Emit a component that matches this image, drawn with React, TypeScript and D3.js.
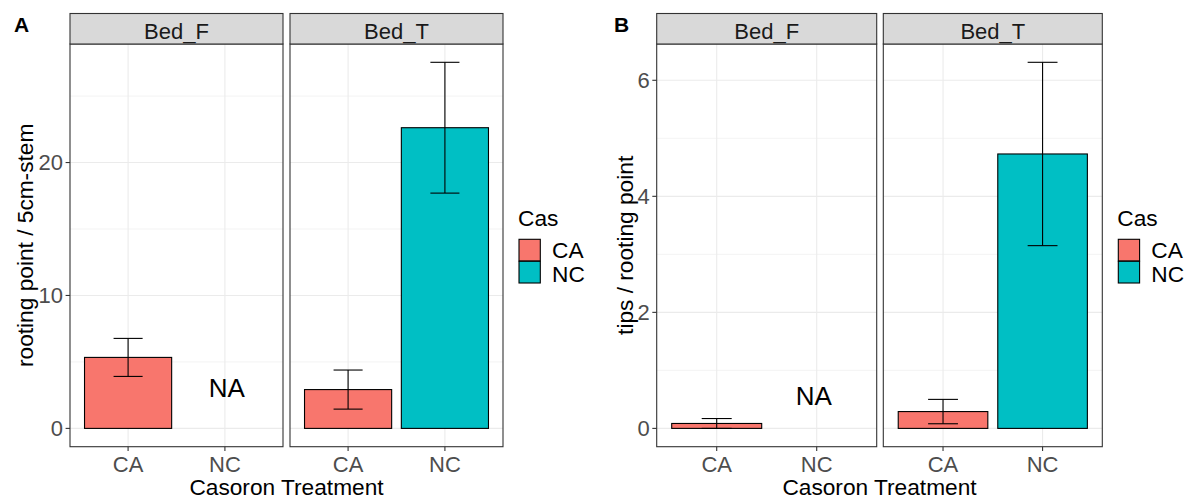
import * as d3 from "d3";

const beds = ["Bed_F", "Bed_T"];
const casLevels = ["CA", "NC"];
const casColors = ["#F8766D", "#00BFC4"];

// one row per bar: facet, Casoron group, mean and standard error
const barBed = ["Bed_F", "Bed_T", "Bed_T"];
const barCas = ["CA", "CA", "NC"];
const rootingMean = [5.34, 2.92, 22.62];
const rootingSE = [1.43, 1.47, 4.92];
const tipsMean = [0.085, 0.29, 4.73];
const tipsSE = [0.085, 0.21, 1.58];

const rootingTicks = [0, 10, 20];
const rootingMinor = [5, 15, 25];
const tipsTicks = [0, 2, 4, 6];
const tipsMinor = [1, 3, 5];

const naRooting = 3.1;
const naTips = 0.57;

const FONT = "'Liberation Sans', Arial, Helvetica, sans-serif";
const PANEL_TOP = 44;
const PANEL_BOTTOM = 446.7;
const STRIP_TOP = 13.5;

type SubProps = {
  tag: string;
  tagX: number;
  facets: [number, number][];
  means: number[];
  ses: number[];
  ticks: number[];
  minor: number[];
  naY: number;
  naShift: number;
  yTitle: string;
  yTitleX: number;
  legendX: number;
};

function SubPlot(p: SubProps) {
  const lo = Math.min(0, ...p.means.map((m, i) => m - p.ses[i]));
  const hi = d3.max(p.means.map((m, i) => m + p.ses[i])) as number;
  const pad = (hi - lo) * 0.05;
  const y = d3.scaleLinear().domain([lo - pad, hi + pad]).range([PANEL_BOTTOM, PANEL_TOP]);
  const color = d3.scaleOrdinal<string, string>().domain(casLevels).range(casColors);
  const left = p.facets[0][0];
  const right = p.facets[p.facets.length - 1][1];
  const midY = (PANEL_TOP + PANEL_BOTTOM) / 2;

  return (
    <g>
      <text x={p.tagX} y={32.3} fontSize={21} fontWeight="bold" fontFamily={FONT}>
        {p.tag}
      </text>
      {beds.map((bed, fi) => {
        const [x0, x1] = p.facets[fi];
        const x = d3.scaleLinear().domain([0.4, 2.6]).range([x0, x1]);
        const rows = barBed.map((b, i) => i).filter((i) => barBed[i] === bed);
        return (
          <g key={bed}>
            <rect x={x0} y={PANEL_TOP} width={x1 - x0} height={PANEL_BOTTOM - PANEL_TOP} fill="white" />
            {p.minor.map((t) => (
              <line key={"m" + t} x1={x0} x2={x1} y1={y(t)} y2={y(t)} stroke="#EBEBEB" strokeWidth={0.6} />
            ))}
            {p.ticks.map((t) => (
              <line key={"t" + t} x1={x0} x2={x1} y1={y(t)} y2={y(t)} stroke="#EBEBEB" strokeWidth={1.1} />
            ))}
            {casLevels.map((c, ci) => (
              <line key={c} x1={x(ci + 1)} x2={x(ci + 1)} y1={PANEL_TOP} y2={PANEL_BOTTOM} stroke="#EBEBEB" strokeWidth={1.1} />
            ))}
            {rows.map((i) => {
              const cx = x(casLevels.indexOf(barCas[i]) + 1);
              const hw = x(0.45) - x(0);
              const ew = x(0.15) - x(0);
              const top = y(p.means[i]);
              const eTop = y(p.means[i] + p.ses[i]);
              const eBot = y(p.means[i] - p.ses[i]);
              return (
                <g key={i}>
                  <rect x={cx - hw} y={top} width={2 * hw} height={y(0) - top} fill={color(barCas[i])} stroke="#000" strokeWidth={1.1} />
                  <line x1={cx} x2={cx} y1={eTop} y2={eBot} stroke="#000" strokeWidth={1.1} />
                  <line x1={cx - ew} x2={cx + ew} y1={eTop} y2={eTop} stroke="#000" strokeWidth={1.1} />
                  <line x1={cx - ew} x2={cx + ew} y1={eBot} y2={eBot} stroke="#000" strokeWidth={1.1} />
                </g>
              );
            })}
            {bed === "Bed_F" && (
              <text x={x(2) + p.naShift} y={y(p.naY)} dy="0.36em" textAnchor="middle" fontSize={26} fontFamily={FONT} fill="#000">
                NA
              </text>
            )}
            <rect x={x0} y={PANEL_TOP} width={x1 - x0} height={PANEL_BOTTOM - PANEL_TOP} fill="none" stroke="#333333" strokeWidth={1.1} />
            <rect x={x0} y={STRIP_TOP} width={x1 - x0} height={PANEL_TOP - STRIP_TOP} fill="#D9D9D9" stroke="#333333" strokeWidth={1.1} />
            <text x={(x0 + x1) / 2} y={39} textAnchor="middle" fontSize={22} fontFamily={FONT} fill="#1A1A1A">
              {bed}
            </text>
            {casLevels.map((c, ci) => (
              <g key={"xt" + c}>
                <line x1={x(ci + 1)} x2={x(ci + 1)} y1={PANEL_BOTTOM} y2={PANEL_BOTTOM + 4.4} stroke="#333333" strokeWidth={1.1} />
                <text x={x(ci + 1)} y={472.3} textAnchor="middle" fontSize={22} fontFamily={FONT} fill="#4D4D4D">
                  {c}
                </text>
              </g>
            ))}
          </g>
        );
      })}
      {p.ticks.map((t) => (
        <g key={"yt" + t}>
          <line x1={left - 4.4} x2={left} y1={y(t)} y2={y(t)} stroke="#333333" strokeWidth={1.1} />
          <text x={left - 7} y={y(t)} dy="0.36em" textAnchor="end" fontSize={22} fontFamily={FONT} fill="#4D4D4D">
            {t}
          </text>
        </g>
      ))}
      <text
        transform={`translate(${p.yTitleX},${midY}) rotate(-90)`}
        textAnchor="middle"
        fontSize={22.7}
        fontFamily={FONT}
        fill="#000"
      >
        {p.yTitle}
      </text>
      <text x={(left + right) / 2} y={495} textAnchor="middle" fontSize={22.7} fontFamily={FONT} fill="#000">
        Casoron Treatment
      </text>
      <g>
        <text x={p.legendX - 1} y={225.7} fontSize={22.7} fontFamily={FONT} fill="#000">
          Cas
        </text>
        {casLevels.map((c, ci) => (
          <g key={"lg" + c}>
            <rect x={p.legendX} y={239.3 + ci * 22} width={21.3} height={21.7} fill={color(c)} stroke="#000" strokeWidth={1.1} />
            <text x={p.legendX + 33} y={258.3 + ci * 23.4} fontSize={22.7} fontFamily={FONT} fill="#000">
              {c}
            </text>
          </g>
        ))}
      </g>
    </g>
  );
}

export default function App() {
  return (
    <svg width={1188} height={498} style={{ display: "block", position: "absolute", left: 0, top: 0 }}>
      <rect width={1188} height={498} fill="white" />
      <SubPlot
        tag="A"
        tagX={14}
        facets={[
          [70, 283],
          [290, 503],
        ]}
        means={rootingMean}
        ses={rootingSE}
        ticks={rootingTicks}
        minor={rootingMinor}
        naY={naRooting}
        naShift={2}
        yTitle="rooting point / 5cm-stem"
        yTitleX={33}
        legendX={519}
      />
      <SubPlot
        tag="B"
        tagX={614}
        facets={[
          [656.7, 876.7],
          [883.3, 1102.3],
        ]}
        means={tipsMean}
        ses={tipsSE}
        ticks={tipsTicks}
        minor={tipsMinor}
        naY={naTips}
        naShift={-3}
        yTitle="tips / rooting point"
        yTitleX={633}
        legendX={1118.3}
      />
    </svg>
  );
}
